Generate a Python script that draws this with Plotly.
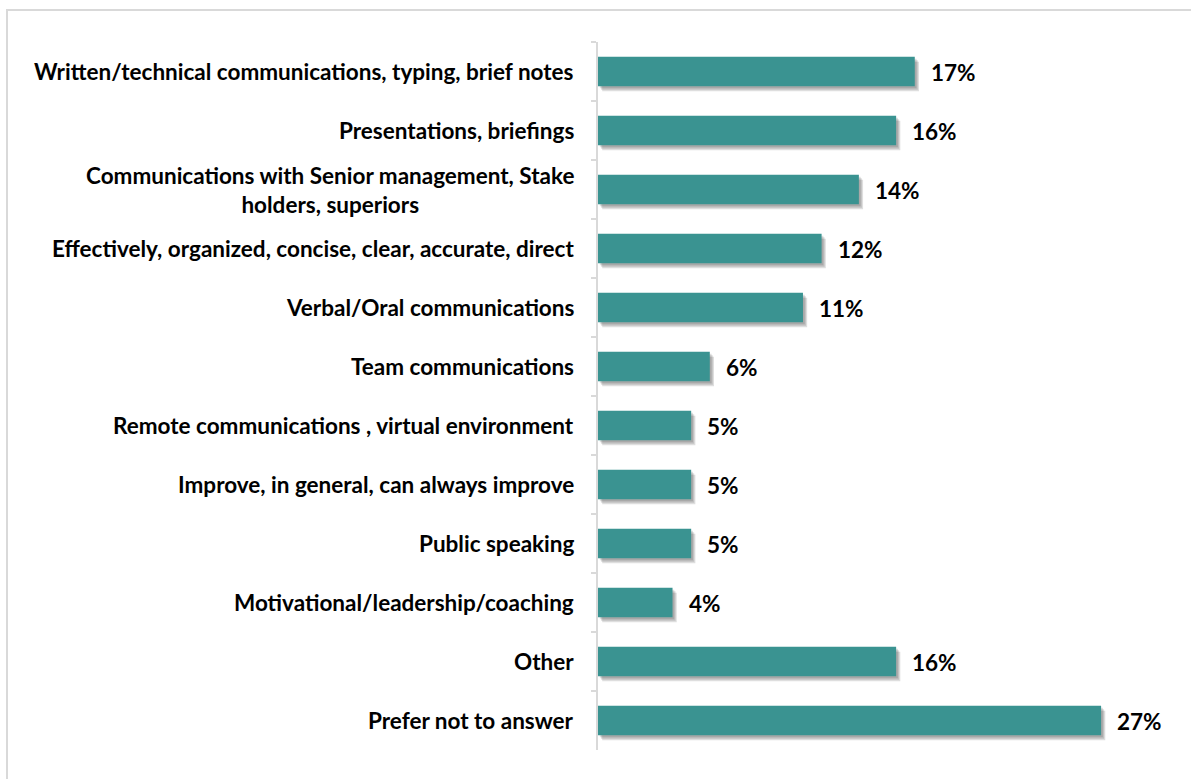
import plotly.graph_objects as go

categories = [
    "Written/technical communications, typing, brief notes",
    "Presentations, briefings",
    "Communications with Senior management, Stake<br>holders, superiors",
    "Effectively, organized, concise, clear, accurate, direct",
    "Verbal/Oral communications",
    "Team communications",
    "Remote communications , virtual environment",
    "Improve, in general, can always improve",
    "Public speaking",
    "Motivational/leadership/coaching",
    "Other",
    "Prefer not to answer",
]
values = [17, 16, 14, 12, 11, 6, 5, 5, 5, 4, 16, 27]
value_labels = [f"{v}%" for v in values]

W, H = 1191, 779
M_L, M_R, M_T, M_B = 598, 34, 42, 29
X_MAX = 30
plot_w = W - M_L - M_R
plot_h = H - M_T - M_B
px_per_unit = plot_w / X_MAX
row_px = plot_h / len(categories)

BAR_COLOR = "#3A9391"
FONT = "Lato"
FONT_SIZE = 22.5
BAR_W = 0.5

fig = go.Figure()

# soft drop shadow: a few translucent layers shifted right/down
for spread in (7, 5, 3):
    dx = spread / px_per_unit
    dy = spread / row_px
    fig.add_trace(go.Bar(
        y=categories, x=values, base=dx * 0.6, orientation="h",
        width=BAR_W, offset=-BAR_W / 2 + dy * 0.7,
        marker=dict(color="rgba(0,0,0,0.13)", line=dict(width=0)),
        hoverinfo="skip", showlegend=False,
    ))

fig.add_trace(go.Bar(
    y=categories, x=values, orientation="h",
    width=BAR_W, offset=-BAR_W / 2,
    marker=dict(color=BAR_COLOR, line=dict(width=0)),
    showlegend=False,
))

# category labels, right-aligned against the axis with centred lines
label_x = (576 - M_L) / plot_w
for cat in categories:
    fig.add_annotation(
        x=label_x, xref="paper", y=cat, yref="y",
        text=f"<b>{cat}</b>", showarrow=False,
        xanchor="right", align="center",
        font=dict(family=FONT, size=FONT_SIZE, color="#000000"),
    )

# value labels at the bar ends
for cat, v, lab in zip(categories, values, value_labels):
    fig.add_annotation(
        x=v, xref="x", y=cat, yref="y",
        text=f"<b>{lab}</b>", showarrow=False,
        xanchor="left", xshift=14, yshift=-1,
        font=dict(family=FONT, size=FONT_SIZE, color="#000000"),
    )

# outer frame (left and top edges visible)
fx0 = (7 - M_L) / plot_w
fy1 = (H - M_B - 10) / plot_h
fig.add_shape(
    type="rect", xref="paper", yref="paper",
    x0=fx0, x1=(W + 20 - M_L) / plot_w,
    y0=-(M_B + 20) / plot_h, y1=fy1,
    line=dict(color="#D9D9D9", width=2), layer="below",
)

fig.update_layout(
    width=W, height=H,
    margin=dict(l=M_L, r=M_R, t=M_T, b=M_B),
    barmode="overlay",
    plot_bgcolor="white", paper_bgcolor="white",
    font=dict(family=FONT, color="#000000"),
    xaxis=dict(range=[0, X_MAX], visible=False, fixedrange=True),
    yaxis=dict(
        categoryorder="array", categoryarray=categories,
        autorange="reversed",
        showticklabels=False, tickson="boundaries",
        ticks="outside", ticklen=5, tickcolor="#D9D9D9", tickwidth=1.5,
        showline=True, linecolor="#D9D9D9", linewidth=1.5,
        showgrid=False, zeroline=False, fixedrange=True,
    ),
)

fig.write_html("out.html")
